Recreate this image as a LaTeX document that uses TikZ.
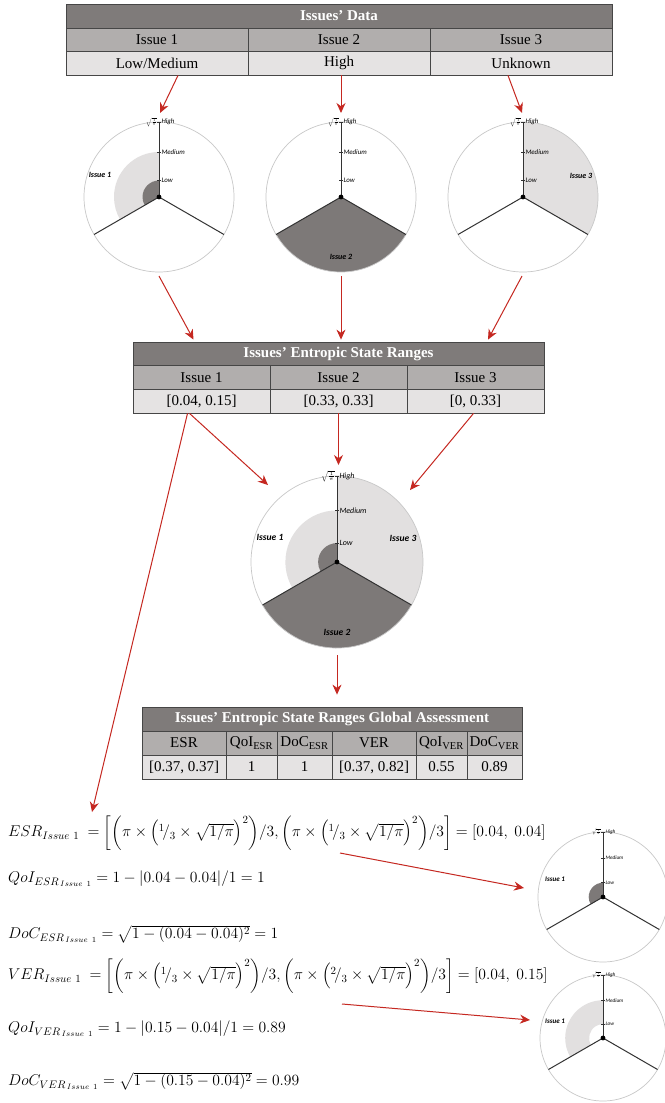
\RequirePackage{fix-cm}
\documentclass[tikz,border=0pt]{standalone}
\usepackage{amsmath}
\usepackage{fontspec}
\setmainfont{Liberation Serif}
\newfontfamily\wheelfont{Carlito}
\usetikzlibrary{arrows.meta, positioning, calc}
\definecolor{arrowred}{RGB}{197,40,33}
\definecolor{hdgray}{RGB}{127,123,122}
\definecolor{subgray}{RGB}{177,174,173}
\definecolor{valgray}{RGB}{229,227,227}
\definecolor{tabline}{RGB}{70,70,70}
\definecolor{rimgray}{RGB}{200,200,200}
\definecolor{darkfill}{RGB}{125,121,120}
\definecolor{lightfill}{RGB}{226,224,224}
\tikzset{
  cell/.style={draw=tabline, line width=0.8pt, inner sep=0pt, font=\fontsize{15}{18}\selectfont},
  hd/.style={cell, fill=hdgray, text=white, font=\fontsize{15}{18}\selectfont\bfseries},
  sub/.style={cell, fill=subgray},
  val/.style={cell, fill=valgray},
  flow/.style={-{Stealth[length=10pt, width=9pt]}, draw=arrowred, line width=1pt},
  rim/.style={draw=rimgray, line width=0.7pt},
  spoke/.style={draw=black!80, line width=1pt},
  wlab/.style={font=\wheelfont\itshape\fontsize{#1}{#1}\selectfont, inner sep=0.6pt},
  ilab/.style={font=\wheelfont\bfseries\itshape\fontsize{#1}{#1}\selectfont, inner sep=0pt},
  eq/.style={anchor=west, inner sep=0pt, font=\fontsize{15.6}{18}\selectfont}
}
% wheel: centre, radius, tick font size
\newcommand{\wheel}[3]{%
  \draw[rim] (#1) circle[radius=#2pt];
  \draw[spoke] (#1) -- ++(210:#2pt);
  \draw[spoke] (#1) -- ++(330:#2pt);
  \draw[spoke] (#1) -- ++(0,#2pt);
  \foreach \fr/\lv in {0.22/Low, 0.6/Medium, 1/High}
    \draw[spoke, line width=0.6pt] ($(#1)+(-1.6pt,\fr*#2pt)$) -- ++(3.2pt,0) node[wlab=#3, right] {\lv};
  \node[wlab=#3, left, inner sep=0.3pt] at ($(#1)+(-1.6pt,#2pt)$) {$\scriptstyle\sqrt{\frac{1}{\pi}}$};
  \fill (#1) circle[radius=2.4pt];
}
% wedge: style, centre, start angle, radius
\newcommand{\wedgefill}[4]{\fill[#1] (#2) -- ++(#3:#4pt) arc[start angle=#3, delta angle=120, radius=#4pt] -- cycle;}

\begin{document}
\begin{tikzpicture}[x=1pt, y=1pt]
  \path[use as bounding box, fill=white] (0,0) rectangle (664,-1103);

  % issues' data
  \node[hd, minimum width=546pt, minimum height=24pt] (dh) at (339,-16) {Issues’ Data};
  \foreach \lbl [count=\i] in {Issue 1, Issue 2, Issue 3}
    \node[sub, minimum width=182pt, minimum height=23.5pt] (d\i) at ({66+182*\i-91},-39.75) {\lbl};
  \foreach \lbl [count=\i] in {Low/Medium, High, Unknown}
    \node[val, minimum width=182pt, minimum height=23.5pt] (v\i) at ({66+182*\i-91},-63.25) {\lbl};

  % single issue wheels
  \coordinate (w1) at (159,-197);
  \coordinate (w2) at (341,-197);
  \coordinate (w3) at (523,-197);
  \wedgefill{lightfill}{w1}{90}{45}
  \wedgefill{darkfill}{w1}{90}{16.5}
  \wedgefill{darkfill}{w2}{210}{75}
  \wedgefill{lightfill}{w3}{-30}{75}
  \wheel{w1}{75}{6.9}
  \wheel{w2}{75}{6.9}
  \wheel{w3}{75}{6.9}
  \node[ilab=8] (w1i) at ($(w1)+(-59pt,22pt)$) {Issue 1};
  \node[ilab=8] (w2i) at ($(w2)+(0,-60pt)$) {Issue 2};
  \node[ilab=8] (w3i) at ($(w3)+(58pt,21pt)$) {Issue 3};

  \draw[flow] ([xshift=21pt]v1.south) -- ($(w1)+(1pt,84pt)$);
  \draw[flow] ([xshift=2pt]v2.south) -- ($(w2)+(0,84pt)$);
  \draw[flow] ([xshift=-13pt]v3.south) -- ($(w3)+(-1pt,84pt)$);

  % entropic state ranges
  \node[hd, minimum width=411pt, minimum height=23.5pt] (rh) at (338.5,-353.75) {Issues’ Entropic State Ranges};
  \foreach \lbl [count=\i] in {Issue 1, Issue 2, Issue 3}
    \node[sub, minimum width=137pt, minimum height=23.5pt] (e\i) at ({133+137*\i-68.5},-377.25) {\lbl};
  \foreach \lbl [count=\i] in {{[0.04, 0.15]}, {[0.33, 0.33]}, {[0, 0.33]}}
    \node[val, minimum width=137pt, minimum height=24pt] (r\i) at ({133+137*\i-68.5},-401) {\lbl};

  \draw[flow] ($(w1)+(0,-79pt)$) -- ([xshift=-145pt, yshift=2pt]rh.north);
  \draw[flow] ($(w2)+(0,-79pt)$) -- ([xshift=2.5pt, yshift=2pt]rh.north);
  \draw[flow] ($(w3)+(-1pt,-79pt)$) -- ([xshift=149.5pt, yshift=2pt]rh.north);

  % combined wheel
  \coordinate (wa) at (337,-562);
  \wedgefill{lightfill}{wa}{-30}{86}
  \wedgefill{darkfill}{wa}{210}{86}
  \wedgefill{lightfill}{wa}{90}{51.6}
  \wedgefill{darkfill}{wa}{90}{18.9}
  \wheel{wa}{86}{8}
  \node[ilab=9.5] (wa1) at ($(wa)+(-67pt,25pt)$) {Issue 1};
  \node[ilab=9.5] (wa2) at ($(wa)+(0,-70pt)$) {Issue 2};
  \node[ilab=9.5] (wa3) at ($(wa)+(66pt,24pt)$) {Issue 3};

  \draw[flow] ([xshift=-12pt]r1.south) -- ($(wa)+(-69pt,77pt)$);
  \draw[flow] (r2.south) -- ($(wa)+(1.5pt,97pt)$);
  \draw[flow] ([xshift=-2pt]r3.south) -- ($(wa)+(73pt,72pt)$);
  \draw[flow] ([xshift=-14pt]r1.south) -- (92,-812);

  % global assessment
  \node[hd, minimum width=380pt, minimum height=24pt] (gh) at (332,-719) {Issues’ Entropic State Ranges Global Assessment};
  \foreach \cx/\cw/\lbl [count=\i] in {184/84/ESR, 251.5/51/QoI\textsubscript{ESR}, 304.5/55/DoC\textsubscript{ESR},
      374/84/VER, 441.5/51/QoI\textsubscript{VER}, 494.5/55/DoC\textsubscript{VER}}
    \node[sub, minimum width=\cw pt, minimum height=24pt] (g\i) at (\cx,-743) {\lbl};
  \foreach \cx/\cw/\lbl [count=\i] in {184/84/{[0.37, 0.37]}, 251.5/51/1, 304.5/55/1,
      374/84/{[0.37, 0.82]}, 441.5/51/0.55, 494.5/55/0.89}
    \node[val, minimum width=\cw pt, minimum height=24pt] (h\i) at (\cx,-767) {\lbl};

  \draw[flow] ($(wa)+(0,-93pt)$) -- ([yshift=12pt]gh.north -| wa);

  % issue 1 formulas
  \node[eq] (f1) at (8,-833) {$ESR_{Issue\ 1}\ = \bigg[\bigg(\pi\times\Big({}^{1}\!/_{3}\times\sqrt{1/\pi}\Big)^{2}\bigg)/3,\bigg(\pi\times\Big({}^{1}\!/_{3}\times\sqrt{1/\pi}\Big)^{2}\bigg)/3\bigg] = [0.04,\ 0.04]$};
  \node[eq] (f2) at (8,-879) {$QoI_{ESR_{\,Issue\ 1}} = 1 - |0.04 - 0.04|/1 = 1$};
  \node[eq] (f3) at (8,-934) {$DoC_{ESR_{\,Issue\ 1}} = \sqrt{1-(0.04-0.04)^{2}} = 1$};
  \node[eq] (f4) at (8,-976) {$VER_{Issue\ 1}\ = \bigg[\bigg(\pi\times\Big({}^{1}\!/_{3}\times\sqrt{1/\pi}\Big)^{2}\bigg)/3,\bigg(\pi\times\Big({}^{2}\!/_{3}\times\sqrt{1/\pi}\Big)^{2}\bigg)/3\bigg] = [0.04,\ 0.15]$};
  \node[eq] (f5) at (8,-1029) {$QoI_{VER_{\,Issue\ 1}} = 1 - |0.15 - 0.04|/1 = 0.89$};
  \node[eq] (f6) at (8,-1081) {$DoC_{VER_{\,Issue\ 1}} = \sqrt{1-(0.15-0.04)^{2}} = 0.99$};

  % issue 1 detail wheels
  \coordinate (ws) at (603,-897);
  \coordinate (wv) at (603,-1038);
  \wedgefill{darkfill}{ws}{90}{14.3}
  \fill[lightfill] ($(wv)+(90:37.8pt)$) arc[start angle=90, delta angle=120, radius=37.8pt]
    -- ($(wv)+(210:13.9pt)$) arc[start angle=210, delta angle=-120, radius=13.9pt] -- cycle;
  \wheel{ws}{65}{5.3}
  \wheel{wv}{63}{5.3}
  \node[ilab=7] (ws1) at ($(ws)+(-48pt,18pt)$) {Issue 1};
  \node[ilab=7] (wv1) at ($(wv)+(-48pt,17pt)$) {Issue 1};

  \draw[flow] (340,-853) -- ($(ws)+(-79pt,9pt)$);
  \draw[flow] (342,-1004) -- ($(wv)+(-73pt,18pt)$);
\end{tikzpicture}
\end{document}
